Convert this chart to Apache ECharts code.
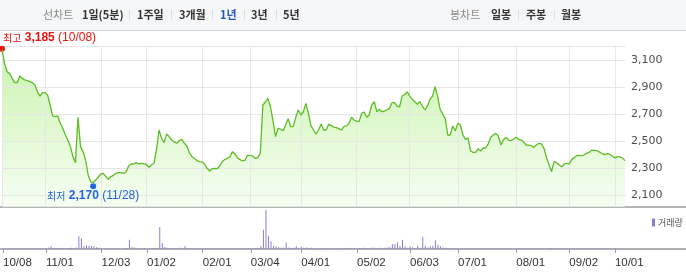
<!DOCTYPE html>
<html><head><meta charset="utf-8">
<script src="https://cdn.jsdelivr.net/npm/echarts@6/dist/echarts.min.js"></script>
<style>html,body{margin:0;padding:0;background:#fff}#c{width:686px;height:274px}</style>
</head><body><div id="c"></div><script>
// ---- data ----
const prices = [
3181,3078,3016,3004,2967,2935,2935,2985,2967,2955,
2950,2942,2935,2918,2868,2836,2861,2861,2844,2770,
2689,2684,2689,2635,2598,2548,2511,2462,2388,2344,
2679,2462,2425,2364,2253,2204,2196,2216,2236,2260,
2265,2241,2221,2241,2250,2265,2270,2270,2265,2275,
2319,2334,2334,2344,2334,2339,2334,2332,2310,2327,
2339,2438,2585,2524,2492,2556,2536,2511,2497,2487,
2507,2516,2487,2467,2418,2388,2374,2359,2351,2349,
2334,2302,2282,2299,2302,2299,2319,2351,2368,2376,
2388,2425,2408,2378,2366,2356,2363,2400,2395,2393,
2376,2381,2413,2770,2792,2819,2757,2654,2536,2597,
2592,2580,2622,2669,2610,2610,2679,2733,2696,2720,
2782,2708,2615,2585,2555,2585,2629,2585,2585,2627,
2617,2607,2602,2595,2585,2610,2615,2634,2679,2659,
2651,2647,2708,2718,2679,2696,2770,2794,2720,2738,
2720,2725,2733,2745,2787,2787,2762,2757,2836,2848,
2868,2836,2812,2794,2775,2794,2762,2733,2762,2812,
2836,2905,2836,2738,2703,2671,2548,2548,2615,2580,
2634,2622,2548,2516,2528,2432,2420,2420,2447,2430,
2452,2452,2482,2531,2548,2560,2541,2474,2511,2531,
2511,2506,2519,2531,2516,2511,2496,2474,2474,2469,
2457,2474,2487,2482,2450,2383,2327,2277,2351,2344,
2327,2314,2334,2339,2334,2368,2381,2398,2395,2395,
2403,2415,2422,2437,2435,2432,2422,2410,2403,2410,
2406,2393,2378,2388,2386,2378,2359];
const volumes = [
5,4,6,5,4,5,6,4,5,4,
5,6,4,5,7,6,5,8,15,27,
10,8,12,9,10,8,9,12,10,14,
127,107,27,37,33,30,27,17,12,8,
6,7,5,6,8,5,6,5,7,10,
93,20,15,8,6,5,7,5,6,8,
7,12,220,60,20,12,10,8,10,8,
12,9,27,10,8,6,7,5,6,5,
6,5,7,6,5,6,5,7,6,5,
6,8,6,5,7,6,5,8,6,7,
8,10,30,193,390,133,77,33,27,17,
12,15,67,15,10,12,27,10,20,12,
15,10,12,8,10,7,8,10,7,6,
8,7,6,9,8,7,8,10,12,9,
8,10,9,12,10,9,14,13,10,12,
10,12,15,20,50,50,67,33,93,27,
12,27,17,10,33,12,120,33,15,27,
33,87,43,27,15,12,10,8,7,6,
5,6,5,4,5,6,4,5,4,5,
4,5,4,5,4,3,4,5,4,4,
5,4,4,3,4,5,4,6,5,4,
4,5,4,3,5,6,8,10,6,5,
4,5,4,5,6,4,5,4,5,4,
4,5,6,4,5,4,5,6,4,5,
4,3,4,5,4,3,4];
const tickIndex = [0,17,39,57,79,98,118,140,161,180,203,224,242];
const tickLabels = ['10/08','11/01','12/03','01/02','02/01','03/04','04/01','05/02','06/03','07/01','08/01','09/02','10/01'];
const yTicks = [2100,2300,2500,2700,2900,3100];
const highPoint = [0, 3185, '10/08'];
const lowPoint = [36, 2170, '11/28'];
const tabTexts = ['선차트','1일(5분)','1주일','3개월','1년','3년','5년','봉차트','일봉','주봉','월봉'];

// ---- layout ----
const tabX = [43,82,137,179,220,251,283,450,491,526,561];
const tabKind = ['label','item','item','item','active','item','item','label','item','item','item'];
const sepX = [129,171,212,244,276,518,554];
const GL = 2, GR = 61;
const P_TOP = 46, P_H = 161;
const V_TOP = 209, V_H = 40;

const categories = prices.map((_, i) => i);
const tickSet = new Set(tickIndex);
const labelMap = {};
tickIndex.forEach((t, k) => labelMap[t] = tickLabels[k]);
const fmt = v => v.toLocaleString('en-US');
const KR = '"Noto Sans CJK KR"';

const kindStyle = {
  label: {fill:'#8a8a8a', font:'11px ' + KR},
  item: {fill:'#333333', font:'bold 11px ' + KR},
  active: {fill:'#2b55b8', font:'bold 11px ' + KR}
};
const graphics = [
  {type:'rect', shape:{x:0,y:0,width:686,height:30}, style:{fill:'#f5f6f8'}},
  {type:'line', shape:{x1:0,y1:30.5,x2:686,y2:30.5}, style:{stroke:'#d3d6db', lineWidth:1}},
  {type:'line', shape:{x1:0,y1:P_TOP+P_H,x2:686,y2:P_TOP+P_H}, style:{stroke:'#b5b5b5', lineWidth:2}},
  {type:'line', shape:{x1:0,y1:V_TOP+V_H,x2:686,y2:V_TOP+V_H}, style:{stroke:'#b0b0b0', lineWidth:2}}
];
tabTexts.forEach((t, k) => graphics.push({type:'text', x:tabX[k], y:15,
  style:Object.assign({text:t, verticalAlign:'middle', align:'left'}, kindStyle[tabKind[k]])}));
sepX.forEach(x => graphics.push({type:'line', shape:{x1:x+0.5,y1:10,x2:x+0.5,y2:20}, style:{stroke:'#dddddd', lineWidth:1}}));

const gridColor = '#e6e6e6';
const chart = echarts.init(document.getElementById('c'), null, {renderer:'canvas'});
chart.setOption({
  animation:false,
  graphic: graphics,
  legend: {data:['거래량'], left:647, top:213, icon:'rect', itemWidth:3, itemHeight:8, itemGap:4,
    textStyle:{fontSize:9, color:'#555', fontFamily:'Noto Sans CJK KR', padding:[0,0,0,-2]}},
  grid: [
    {left:GL, right:GR, top:P_TOP, height:P_H},
    {left:GL, right:GR, top:V_TOP, height:V_H}
  ],
  xAxis: [
    {gridIndex:0, type:'category', data:categories, boundaryGap:false, z:3,
      axisLine:{show:false}, axisTick:{show:false}, axisLabel:{show:false},
      splitLine:{show:true, interval:(i) => tickSet.has(i), lineStyle:{color:gridColor, width:1}}},
    {gridIndex:0, type:'category', data:categories, boundaryGap:false, position:'top', z:3,
      axisLine:{show:true, lineStyle:{color:gridColor, width:1}}, axisTick:{show:false}, axisLabel:{show:false}},
    {gridIndex:1, type:'category', data:categories, boundaryGap:false,
      axisLine:{show:false},
      axisTick:{show:true, interval:(i) => tickSet.has(i), length:4, lineStyle:{color:'#999'}},
      axisLabel:{show:true, interval:(i) => tickSet.has(i), formatter:(v, i) => labelMap[i] || '',
        align:'left', margin:8, fontSize:11.5, color:'#333', fontFamily:'Liberation Sans'},
      splitLine:{show:false}}
  ],
  yAxis: [
    {gridIndex:0, type:'value', position:'right', min:2016, max:3206, z:3,
      axisLine:{show:false}, axisTick:{show:false, customValues:yTicks},
      axisLabel:{customValues:yTicks, formatter:v => fmt(v), margin:6, color:'#4d4d4d', fontSize:11, fontFamily:'DejaVu Sans'},
      splitLine:{show:true, lineStyle:{color:gridColor, width:1}}},
    {gridIndex:1, type:'value', min:0, max:400, show:false}
  ],
  series: [
    {type:'line', xAxisIndex:0, yAxisIndex:0, data:prices, symbol:'none', z:1,
      lineStyle:{width:0, opacity:0},
      areaStyle:{color:new echarts.graphic.LinearGradient(0,0,0,1,[
        {offset:0, color:'#b2ee88'}, {offset:0.5, color:'#d3f6bd'}, {offset:1, color:'#f1fcec'}])}},
    {type:'line', xAxisIndex:0, yAxisIndex:0, data:prices, symbol:'none', z:5,
      lineStyle:{width:1.3, color:'#5cbd24'},
      markPoint:{symbol:'circle', symbolSize:6, animation:false, data:[
        {coord:[highPoint[0], highPoint[1]], itemStyle:{color:'#ee1111'},
          label:{show:true, position:[4,-8], align:'left', verticalAlign:'middle',
            formatter:'{a|최고} {b|' + fmt(highPoint[1]) + '} {c|(' + highPoint[2] + ')}',
            rich:{a:{fontSize:10, fontFamily:'Noto Sans CJK KR', color:'#ee1111'},
                  b:{fontSize:12, fontWeight:'bold', fontFamily:'Liberation Sans', color:'#ee1111'},
                  c:{fontSize:12, fontFamily:'Liberation Sans', color:'#ee1111'}}}},
        {coord:[lowPoint[0], lowPoint[1]], itemStyle:{color:'#2266dd'},
          label:{show:true, position:'bottom', distance:1, align:'center',
            formatter:'{a|최저} {b|' + fmt(lowPoint[1]) + '} {c|(' + lowPoint[2] + ')}',
            rich:{a:{fontSize:10, fontFamily:'Noto Sans CJK KR', color:'#2266dd'},
                  b:{fontSize:12, fontWeight:'bold', fontFamily:'Liberation Sans', color:'#2266dd'},
                  c:{fontSize:12, fontFamily:'Liberation Sans', color:'#2266dd'}}}}
      ]}},
    {type:'bar', name:'거래량', xAxisIndex:2, yAxisIndex:1, data:volumes, barWidth:1,
      itemStyle:{color:'#8a7dd4'}}
  ]
});
</script></body></html>
